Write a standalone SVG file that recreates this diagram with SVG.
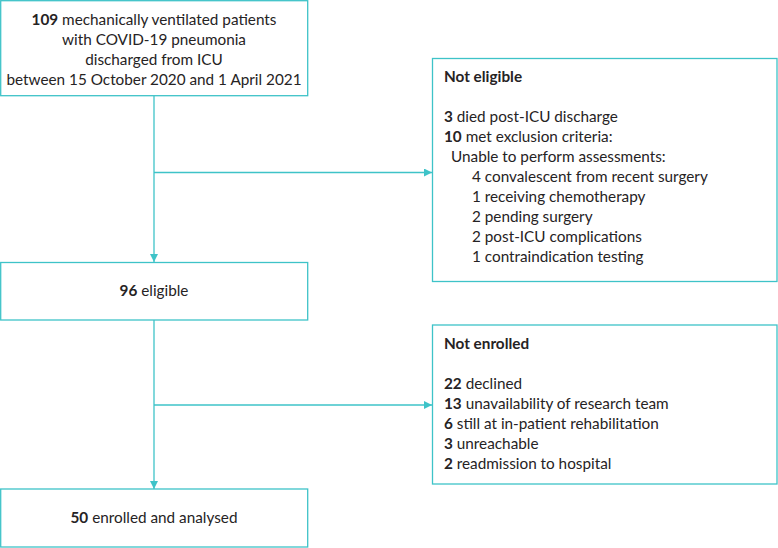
<svg xmlns="http://www.w3.org/2000/svg" width="778" height="548" viewBox="0 0 778 548">
<defs>
<style>
.box{fill:#fff;stroke:#3ec3c8;stroke-width:1.3}
.ln{fill:none;stroke:#3ec3c8;stroke-width:1.3}
text{font-family:Lato,"Liberation Sans",sans-serif;font-size:15.3px;fill:#262324}
.c{text-anchor:middle}
.b{font-weight:bold}
</style>
<marker id="ah" viewBox="0 0 10 10" refX="10" refY="5" markerWidth="8" markerHeight="8" markerUnits="userSpaceOnUse" orient="auto"><path d="M0,0L10,5L0,10z" fill="#3ec3c8"/></marker>
</defs>
<rect width="778" height="548" fill="#fff"/>
<g id="connectors">
<line class="ln" x1="154" y1="96" x2="154" y2="262" marker-end="url(#ah)"/>
<line class="ln" x1="154" y1="172.5" x2="432" y2="172.5" marker-end="url(#ah)"/>
<line class="ln" x1="154" y1="320" x2="154" y2="489" marker-end="url(#ah)"/>
<line class="ln" x1="154" y1="405" x2="432" y2="405" marker-end="url(#ah)"/>
</g>
<g id="n1">
<rect class="box" x="0.7" y="0.7" width="307" height="95"/>
<text class="c" x="154" y="25"><tspan class="b">109</tspan> mechanically ventilated patients</text>
<text class="c" x="154" y="45">with COVID-19 pneumonia</text>
<text class="c" x="154" y="65">discharged from ICU</text>
<text class="c" x="154" y="85">between 15 October 2020 and 1 April 2021</text>
</g>
<g id="n2">
<rect class="box" x="432.5" y="58.5" width="344.5" height="223"/>
<text class="b" x="444" y="82">Not eligible</text>
<text x="444" y="122"><tspan class="b">3</tspan> died post-ICU discharge</text>
<text x="444" y="142"><tspan class="b">10</tspan> met exclusion criteria:</text>
<text x="451" y="162">Unable to perform assessments:</text>
<text x="472" y="182">4 convalescent from recent surgery</text>
<text x="472" y="202">1 receiving chemotherapy</text>
<text x="472" y="222">2 pending surgery</text>
<text x="472" y="242">2 post-ICU complications</text>
<text x="472" y="262">1 contraindication testing</text>
</g>
<g id="n3">
<rect class="box" x="0.7" y="262.5" width="307" height="57.5"/>
<text class="c" x="154" y="296"><tspan class="b">96</tspan> eligible</text>
</g>
<g id="n4">
<rect class="box" x="432.5" y="325" width="344.5" height="159"/>
<text class="b" x="444" y="349">Not enrolled</text>
<text x="444" y="389"><tspan class="b">22</tspan> declined</text>
<text x="444" y="409"><tspan class="b">13</tspan> unavailability of research team</text>
<text x="444" y="429"><tspan class="b">6</tspan> still at in-patient rehabilitation</text>
<text x="444" y="449"><tspan class="b">3</tspan> unreachable</text>
<text x="444" y="469"><tspan class="b">2</tspan> readmission to hospital</text>
</g>
<g id="n5">
<rect class="box" x="0.7" y="489" width="307" height="58"/>
<text class="c" x="154" y="523"><tspan class="b">50</tspan> enrolled and analysed</text>
</g>
</svg>
